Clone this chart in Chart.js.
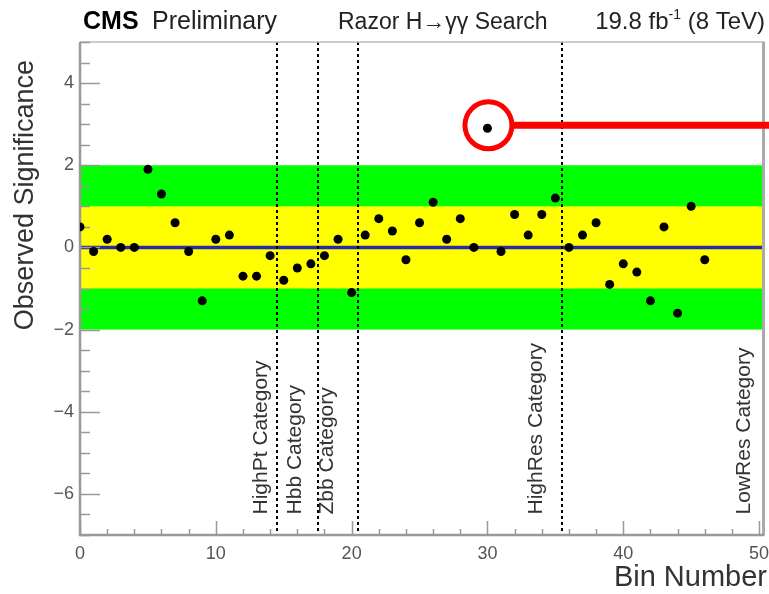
<!DOCTYPE html>
<html>
<head>
<meta charset="utf-8">
<script src="https://cdn.jsdelivr.net/npm/chart.js@4.4.1/dist/chart.umd.min.js"></script>
<style>
  html, body { margin: 0; padding: 0; background: #fff; }
  #wrap { width: 769px; height: 594px; }
</style>
</head>
<body>
<div id="wrap"><canvas id="c" width="769" height="594"></canvas></div>
<script>
// Observed significance per analysis bin
const binNumbers = [
  0, 1, 2, 3, 4, 5, 6, 7, 8, 9,
  10, 11, 12, 13, 14, 15, 16, 17, 18, 19,
  20, 21, 22, 23, 24, 25, 26, 27, 28, 29,
  30, 31, 32, 33, 34, 35, 36, 37, 38, 39,
  40, 41, 42, 43, 44, 45, 46
];
const significance = [
  0.5, -0.1, 0.2, 0.0, 0.0, 1.9, 1.3, 0.6, -0.1, -1.3,
  0.2, 0.3, -0.7, -0.7, -0.2, -0.8, -0.5, -0.4, -0.2, 0.2,
  -1.1, 0.3, 0.7, 0.4, -0.3, 0.6, 1.1, 0.2, 0.7, 0.0,
  2.9, -0.1, 0.8, 0.3, 0.8, 1.2, 0.0, 0.3, 0.6, -0.9,
  -0.4, -0.6, -1.3, 0.5, -1.6, 1.0, -0.3
];
const xTickValues = [0, 10, 20, 30, 40, 50];
const yTickValues = [-6, -4, -2, 0, 2, 4];

// category boundaries (between bins) and category names
const categoryBoundaries = [14.5, 17.5, 20.5, 35.5];
const categoryNames = ['HighPt Category', 'Hbb Category', 'Zbb Category', 'HighRes Category', 'LowRes Category'];

// ±1σ and ±2σ bands
const bandOuter = 2;
const bandInner = 1;

// the highlighted bin
const highlightBin = 30;

// where each category name sits (baseline x, text start y), axis units
const categoryLabelX = [13.8, 16.25, 18.6, 34.0, 49.3];
const categoryLabelY = -6.5;

const FONT = '"Liberation Sans", Arial, Helvetica, sans-serif';

function fmt(v) {
  return v < 0 ? '\u2212' + Math.abs(v) : String(v);
}

const decorations = {
  id: 'decorations',
  beforeDatasetsDraw(chart) {
    const { ctx, chartArea: a, scales: { x, y } } = chart;
    ctx.save();
    // bands
    const band = (lim, col) => {
      const t = y.getPixelForValue(lim), b = y.getPixelForValue(-lim);
      ctx.fillStyle = col;
      ctx.fillRect(a.left, t, a.right - a.left, b - t);
    };
    band(bandOuter, 'rgb(0,255,0)');
    band(bandInner, 'rgb(255,255,0)');

    // zero line
    const y0 = y.getPixelForValue(0);
    ctx.strokeStyle = '#2a2aa8';
    ctx.lineWidth = 3.5;
    ctx.beginPath();
    ctx.moveTo(a.left, y0);
    ctx.lineTo(a.right, y0);
    ctx.stroke();

    // category boundaries
    ctx.strokeStyle = '#000';
    ctx.lineWidth = 2;
    ctx.setLineDash([3, 3]);
    categoryBoundaries.forEach(b => {
      const px = Math.round(x.getPixelForValue(b));
      ctx.beginPath();
      ctx.moveTo(px, a.top);
      ctx.lineTo(px, a.bottom);
      ctx.stroke();
    });
    ctx.setLineDash([]);

    // category names
    ctx.fillStyle = '#333';
    ctx.font = '21px ' + FONT;
    ctx.textAlign = 'left';
    ctx.textBaseline = 'alphabetic';
    categoryNames.forEach((name, i) => {
      ctx.save();
      ctx.translate(x.getPixelForValue(categoryLabelX[i]), y.getPixelForValue(categoryLabelY));
      ctx.rotate(-Math.PI / 2);
      ctx.fillText(name, 0, 0);
      ctx.restore();
    });

    // frame
    ctx.strokeStyle = '#bbb';
    ctx.lineWidth = 1.5;
    ctx.beginPath();
    ctx.moveTo(a.left, a.top);
    ctx.lineTo(a.right, a.top);
    ctx.stroke();
    ctx.strokeStyle = '#aaa';
    ctx.lineWidth = 3;
    ctx.beginPath();
    ctx.moveTo(a.right - 1, a.top);
    ctx.lineTo(a.right - 1, a.bottom);
    ctx.stroke();
    ctx.strokeStyle = '#999';
    ctx.lineWidth = 2.5;
    ctx.beginPath();
    ctx.moveTo(a.left, a.top);
    ctx.lineTo(a.left, a.bottom);
    ctx.lineTo(a.right, a.bottom);
    ctx.stroke();

    // ticks
    ctx.strokeStyle = '#999';
    ctx.lineWidth = 1.5;
    for (let v = -7; v <= 5.001; v += 0.5) {
      const major = Math.abs(v % 2) < 1e-6;
      const py = Math.round(y.getPixelForValue(v)) + 0.5;
      ctx.beginPath();
      ctx.moveTo(a.left, py);
      ctx.lineTo(a.left + (major ? 20 : 10), py);
      ctx.stroke();
    }
    for (let v = 0; v <= 50; v += 2) {
      const major = v % 10 === 0;
      const px = Math.round(x.getPixelForValue(v)) + 0.5;
      ctx.beginPath();
      ctx.moveTo(px, a.bottom);
      ctx.lineTo(px, a.bottom - (major ? 14 : 6));
      ctx.stroke();
    }
    ctx.restore();
  },
  afterDatasetsDraw(chart) {
    const { ctx, scales: { x, y } } = chart;
    const idx = binNumbers.indexOf(highlightBin);
    const cx = x.getPixelForValue(highlightBin) + 1;
    const cy = y.getPixelForValue(significance[idx]) - 3;
    ctx.save();
    ctx.strokeStyle = '#ff0000';
    ctx.lineWidth = 5;
    ctx.beginPath();
    ctx.arc(cx, cy, 23.5, 0, Math.PI * 2);
    ctx.stroke();
    ctx.lineWidth = 7;
    ctx.beginPath();
    ctx.moveTo(cx + 25, cy);
    ctx.lineTo(chart.width, cy);
    ctx.stroke();
    ctx.restore();
  },
  afterDraw(chart) {
    const { ctx } = chart;
    ctx.save();
    ctx.textBaseline = 'alphabetic';
    ctx.textAlign = 'left';

    // header
    ctx.fillStyle = '#000';
    ctx.font = 'bold 25px ' + FONT;
    ctx.fillText('CMS', 83, 29);
    ctx.fillStyle = '#222';
    ctx.font = '25px ' + FONT;
    ctx.fillText('Preliminary', 152, 29);
    ctx.font = '23px ' + FONT;
    ctx.fillText('Razor H\u2192\u03b3\u03b3 Search', 338, 29);

    const big = '24px ' + FONT, small = '14px ' + FONT;
    ctx.font = big;
    const w1 = ctx.measureText('19.8 fb').width;
    const w3 = ctx.measureText(' (8 TeV)').width;
    ctx.font = small;
    const w2 = ctx.measureText('-1').width;
    let sx = 765 - (w1 + w2 + w3);
    ctx.font = big;
    ctx.fillText('19.8 fb', sx, 29);
    ctx.font = small;
    ctx.fillText('-1', sx + w1, 19);
    ctx.font = big;
    ctx.fillText(' (8 TeV)', sx + w1 + w2, 29);

    // axis titles
    ctx.fillStyle = '#333';
    ctx.font = '29px ' + FONT;
    ctx.textAlign = 'right';
    ctx.fillText('Bin Number', 767, 586);

    ctx.font = '27px ' + FONT;
    ctx.translate(26, 60);
    ctx.rotate(-Math.PI / 2);
    ctx.textAlign = 'right';
    ctx.textBaseline = 'middle';
    ctx.fillText('Observed Significance', 0, 0);
    ctx.restore();
  }
};

new Chart(document.getElementById('c'), {
  type: 'scatter',
  data: {
    datasets: [{
      data: binNumbers.map((b, i) => ({ x: b, y: significance[i] })),
      pointRadius: 4.5,
      pointHoverRadius: 4.5,
      pointBackgroundColor: '#000',
      pointBorderWidth: 0,
      showLine: false
    }]
  },
  options: {
    responsive: false,
    animation: false,
    devicePixelRatio: 1,
    events: [],
    layout: { padding: { top: 42, right: 4, left: 0, bottom: 0 } },
    plugins: { legend: { display: false }, tooltip: { enabled: false }, title: { display: false } },
    scales: {
      x: {
        type: 'linear', min: 0, max: 50.4,
        grid: { display: false, drawTicks: false },
        border: { display: false },
        afterBuildTicks: s => { s.ticks = xTickValues.map(v => ({ value: v })); },
        afterFit: s => { s.height = 59; s.paddingLeft = 0; s.paddingRight = 0; },
        ticks: { padding: 8, color: '#555', maxRotation: 0, autoSkip: false,
                 font: { family: FONT, size: 18 }, callback: v => fmt(v) }
      },
      y: {
        type: 'linear', min: -7, max: 5,
        grid: { display: false, drawTicks: false },
        border: { display: false },
        afterBuildTicks: s => { s.ticks = yTickValues.map(v => ({ value: v })); },
        afterFit: s => { s.width = 80; s.paddingTop = 0; s.paddingBottom = 0; },
        ticks: { padding: 6, color: '#555', autoSkip: false,
                 font: { family: FONT, size: 18 }, callback: v => fmt(v) }
      }
    }
  },
  plugins: [decorations]
});
</script>
</body>
</html>
